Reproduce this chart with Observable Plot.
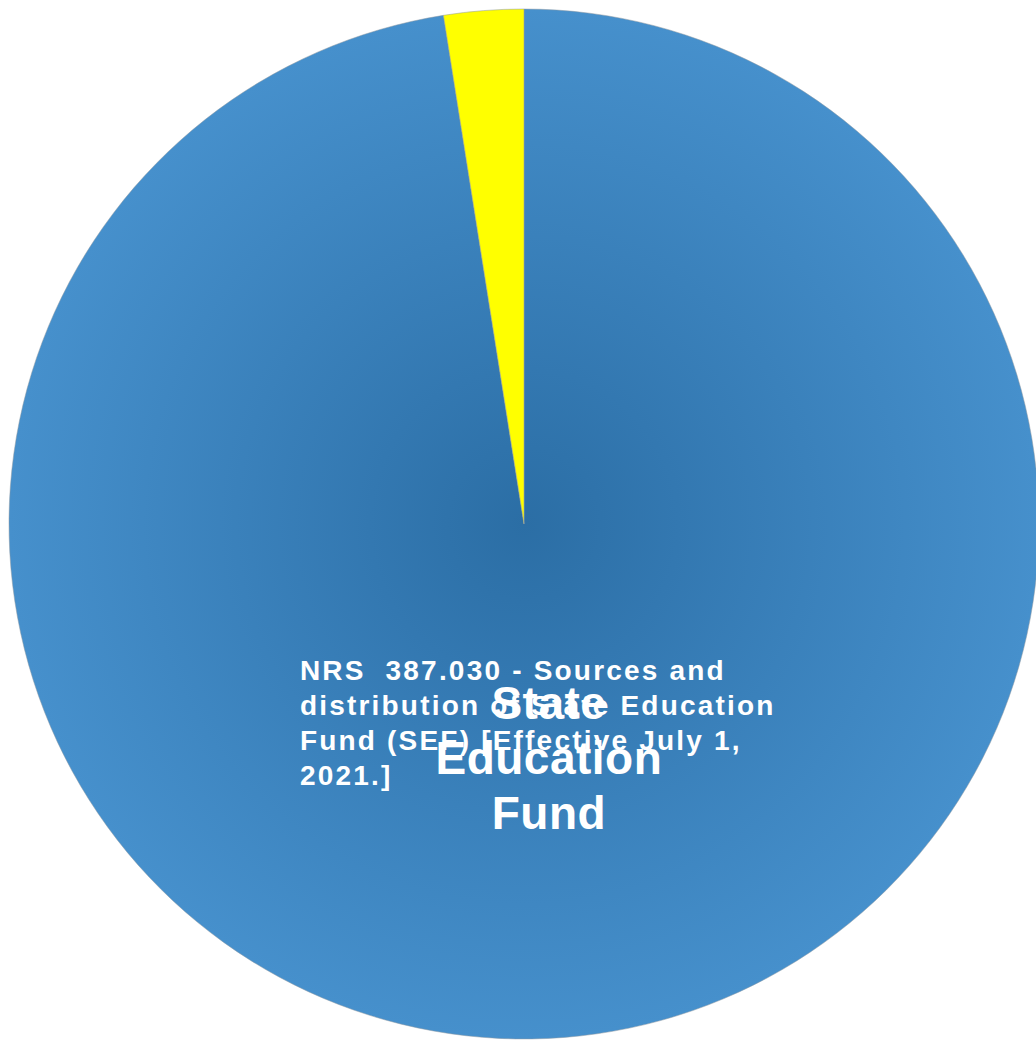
<!DOCTYPE html>
<html><head><meta charset="utf-8">
<script src="https://cdn.jsdelivr.net/npm/d3@7"></script>
<script src="https://cdn.jsdelivr.net/npm/@observablehq/plot@0.6"></script>
<style>html,body{margin:0;padding:0;background:#fff;overflow:hidden} svg{display:block}</style>
</head><body><div id="chart"></div>
<script>
// ---- data ----
const categories = ["State Education Fund", "Other"];
const values = [97.5, 2.5];
const sliceColors = ["#4690cc", "#ffff00"];
const sliceLabels = ["State\nEducation\nFund", ""];
const noteText = "NRS  387.030 - Sources and\ndistribution of State Education\nFund (SEF) [Effective July 1,\n2021.]";

// ---- styles ----
const centerShade = [0.13, 0]; // lightness drop at the pie centre, per slice

// ---- derived ----
const color = Plot.scale({color: {type: "ordinal", domain: categories, range: sliceColors}});
const arcs = d3.pie().sort(null).startAngle(0).endAngle(2 * Math.PI)(values);
const slices = arcs.map((a, i) => ({
  category: categories[i],
  value: values[i],
  start: a.startAngle,
  end: a.endAngle,
  mid: (a.startAngle + a.endAngle) / 2,
  label: sliceLabels[i]
}));
const labelFrac = 0.455;
const labelRows = slices.filter(d => d.label).map(d => ({
  ...d,
  lx: labelFrac * Math.sin(d.mid),
  ly: labelFrac * Math.cos(d.mid)
}));
const noteRows = labelRows.slice(0, 1).map(d => ({...d, note: noteText}));

function pieMark(index, scales, values_, dimensions, context) {
  const cx = scales.x(0), cy = scales.y(0);
  const r = scales.x(1) - scales.x(0);
  const g = d3.create("svg:g");
  const defs = g.append("defs");
  const arc = d3.arc().innerRadius(0).outerRadius(r);
  slices.forEach((d, i) => {
    const base = d3.hsl(color.apply(d.category));
    const inner = d3.hsl(base.h, Math.min(1, base.s + 0.02), base.l - centerShade[i]);
    const mid = d3.interpolateRgb(inner, base)(0.3);
    const id = "grad" + i;
    const grad = defs.append("radialGradient").attr("id", id)
      .attr("gradientUnits", "userSpaceOnUse")
      .attr("cx", 0).attr("cy", 0).attr("r", r);
    grad.append("stop").attr("offset", "0%").attr("stop-color", inner.formatHex());
    grad.append("stop").attr("offset", "30%").attr("stop-color", mid);
    grad.append("stop").attr("offset", "100%").attr("stop-color", base.formatHex());
    g.append("path")
      .attr("transform", `translate(${cx},${cy})`)
      .attr("d", arc({startAngle: d.start, endAngle: d.end}))
      .attr("fill", `url(#${id})`)
      .attr("stroke", "#8d99a4")
      .attr("stroke-opacity", 0.5)
      .attr("stroke-width", 1);
  });
  return g.node();
}

const chart = Plot.plot({
  width: 1036,
  height: 1043,
  margin: 0,
  x: {domain: [-1, 1], range: [9, 1039], axis: null},
  y: {domain: [-1, 1], range: [1039, 9], axis: null},
  style: {background: "white", overflow: "hidden"},
  marks: [
    pieMark,
    Plot.text(noteRows, {
      x: "lx", y: "ly", text: "note",
      textAnchor: "start", dx: -243, dy: -37,
      fill: "white", fontSize: 28, fontWeight: "bold",
      lineHeight: 1.25, fontFamily: "Liberation Sans, Arial, sans-serif"
    }),
    Plot.text(labelRows, {
      x: "lx", y: "ly", text: "label", dx: 6, dy: -2,
      fill: "white", fontSize: 46, fontWeight: "bold",
      lineHeight: 1.2, fontFamily: "Liberation Sans, Arial, sans-serif"
    })
  ]
});
d3.select(chart).selectAll("text")
  .filter(function () { return this.textContent.startsWith("NRS"); })
  .style("letter-spacing", "2.2px");
d3.select(chart).selectAll("text")
  .filter(function () { return this.textContent.startsWith("State"); })
  .style("letter-spacing", "0.5px");
document.getElementById("chart").appendChild(chart);
</script>
</body></html>
